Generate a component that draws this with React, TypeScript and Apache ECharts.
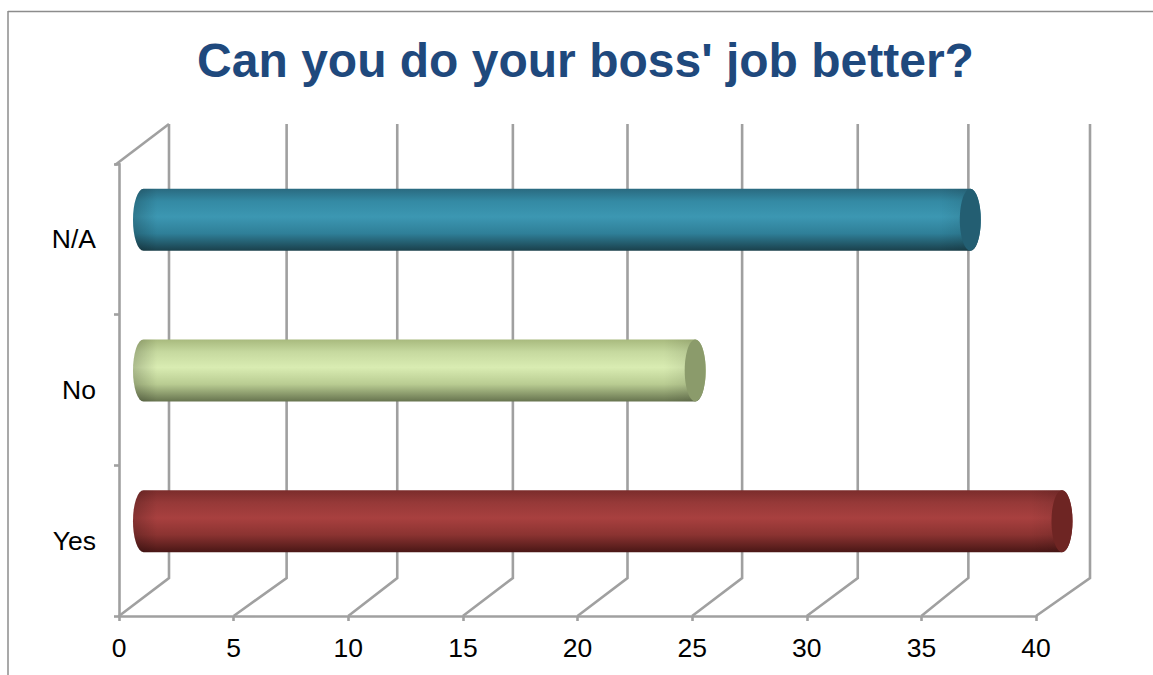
import React, { useEffect, useRef } from "react";
import * as echarts from "echarts";

const titleText = "Can you do your boss' job better?";
const categories = ["Yes", "No", "N/A"];
const values = [40, 24, 36];
const ticks = [0, 5, 10, 15, 20, 25, 30, 35, 40];
const backWallDx = [50, 53, 49, 50, 50, 50, 51, 47, 54];
const bodyTop = ["#7a2c2b", "#a8ba7e", "#2a6a80"];
const bodyUpper = ["#963938", "#c6d99f", "#348aa4"];
const bodyMid = ["#a8403f", "#d9ecb2", "#3c97b2"];
const bodyLower = ["#8b3331", "#b9cc92", "#2f7f98"];
const bodyBottom = ["#4a1716", "#67744f", "#1a404b"];
const capColors = ["#6e2523", "#8b9b6b", "#235e72"];

const GRID_COLOR = "#a0a0a0";
const DEPTH_Y = 38;
const BAR_DX = 24.5;
const BAR_END_DX = 26;
const BAR_DY = 19.5;
const BAR_H = 62;
const CAP_RX = 10.5;

const wallItem = (params: any, api: any) => {
  const i = params.dataIndex;
  const cs = params.coordSys;
  const p = api.coord([api.value(0), 0]);
  const bottom = cs.y + cs.height;
  const dx = backWallDx[i];
  const children: any[] = [
    {
      type: "polyline",
      shape: {
        points: [
          [p[0], bottom],
          [p[0] + dx, bottom - DEPTH_Y],
          [p[0] + dx, cs.y - 40],
        ],
      },
      style: { stroke: GRID_COLOR, lineWidth: 2.6, fill: "none" },
    },
  ];
  if (i === 0) {
    children.push({
      type: "line",
      shape: { x1: p[0] - 4, y1: cs.y + 1, x2: p[0] + dx, y2: cs.y - 40 },
      style: { stroke: GRID_COLOR, lineWidth: 2.6 },
    });
  }
  return { type: "group", children };
};

const barItem = (params: any, api: any) => {
  const i = params.dataIndex;
  const start = api.coord([0, api.value(1)]);
  const end = api.coord([api.value(0), api.value(1)]);
  const cy = start[1] - BAR_DY;
  const top = cy - BAR_H / 2;
  const bot = cy + BAR_H / 2;
  const x0 = start[0] + BAR_DX;
  const x1 = end[0] + BAR_END_DX;
  const ry = BAR_H / 2;
  const d = `M${x0} ${top}L${x1} ${top}A${CAP_RX} ${ry} 0 0 1 ${x1} ${bot}L${x0} ${bot}A${CAP_RX} ${ry} 0 0 1 ${x0} ${top}Z`;
  const w = x1 - x0 + 2 * CAP_RX;
  const shapeBox = { pathData: d, x: x0 - CAP_RX, y: top, width: w, height: BAR_H, layout: "center" };
  return {
    type: "group",
    children: [
      {
        type: "path",
        shape: shapeBox,
        style: {
          fill: new echarts.graphic.LinearGradient(0, 0, 0, 1, [
            { offset: 0, color: bodyTop[i] },
            { offset: 0.2, color: bodyUpper[i] },
            { offset: 0.45, color: bodyMid[i] },
            { offset: 0.72, color: bodyLower[i] },
            { offset: 1, color: bodyBottom[i] },
          ]),
        },
      },
      {
        type: "path",
        shape: shapeBox,
        style: {
          fill: new echarts.graphic.LinearGradient(0, 0, 1, 0, [
            { offset: 0, color: "rgba(0,0,0,0.2)" },
            { offset: 24 / w, color: "rgba(0,0,0,0)" },
            { offset: 1 - 42 / w, color: "rgba(0,0,0,0)" },
            { offset: 1 - 10 / w, color: "rgba(0,0,0,0.1)" },
            { offset: 1, color: "rgba(0,0,0,0.1)" },
          ]),
        },
      },
      {
        type: "ellipse",
        shape: { cx: x1, cy, rx: CAP_RX, ry },
        style: { fill: capColors[i] },
      },
    ],
  };
};

export default function App() {
  const ref = useRef<HTMLDivElement>(null);
  useEffect(() => {
    const chart = echarts.init(ref.current!, undefined, { renderer: "svg" });
    const axisText = { color: "#000", fontFamily: "Liberation Sans", fontSize: 26.5 };
    const axisLineStyle = { color: GRID_COLOR, width: 2.6 };
    chart.setOption({
      animation: false,
      backgroundColor: "#fff",
      title: {
        text: titleText,
        left: 580.5,
        top: 31,
        textAlign: "center",
        textStyle: { color: "#1f497d", fontFamily: "Liberation Sans", fontWeight: "bold", fontSize: 48 },
      },
      grid: { left: 119, right: 117, top: 164, bottom: 59 },
      xAxis: {
        type: "value",
        min: 0,
        max: 40,
        interval: 5,
        splitLine: { show: false },
        axisLine: { show: true, lineStyle: axisLineStyle },
        axisTick: { show: true, length: 5, lineStyle: axisLineStyle },
        axisLabel: { ...axisText, margin: 18 },
      },
      yAxis: {
        type: "category",
        data: categories,
        offset: 2,
        axisLine: { show: true, lineStyle: axisLineStyle },
        axisTick: { show: true, length: 5, lineStyle: axisLineStyle },
        axisLabel: { ...axisText, margin: 21 },
      },
      series: [
        {
          type: "custom",
          silent: true,
          z: 1,
          clip: false,
          renderItem: wallItem,
          encode: { x: 0 },
          data: ticks.map((t) => [t]),
        },
        {
          type: "custom",
          silent: true,
          z: 3,
          clip: false,
          renderItem: barItem,
          encode: { x: 0, y: 1 },
          data: values.map((v, i) => [v, i]),
        },
      ],
      graphic: [
        { type: "line", shape: { x1: 8, y1: 11.5, x2: 1153, y2: 11.5 }, style: { stroke: "#8c8c8c", lineWidth: 1.5 } },
        { type: "line", shape: { x1: 8, y1: 11, x2: 8, y2: 675 }, style: { stroke: "#8c8c8c", lineWidth: 1.5 } },
      ],
    });
    return () => chart.dispose();
  }, []);
  return <div ref={ref} style={{ position: "fixed", left: 0, top: 0, width: 1153, height: 675 }} />;
}
